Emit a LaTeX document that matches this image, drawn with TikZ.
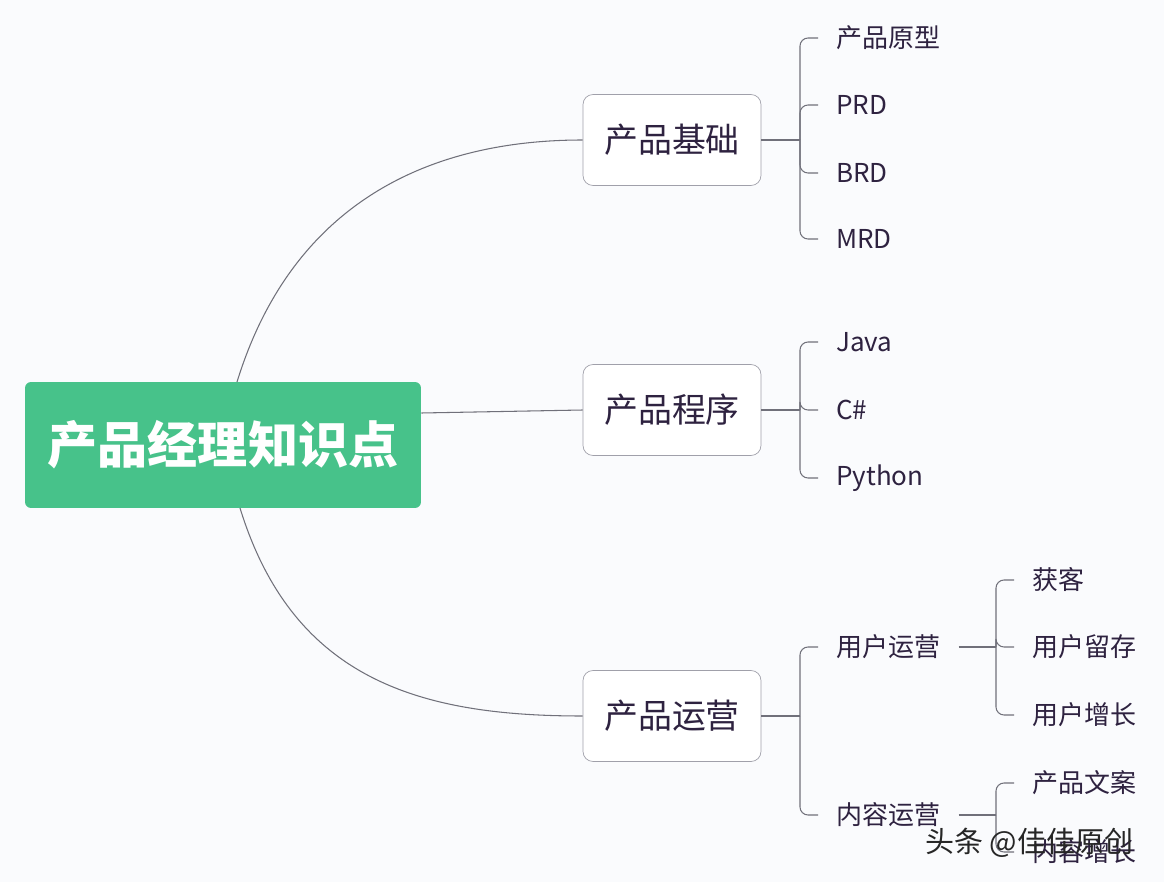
\documentclass[tikz,border=0pt]{standalone}
\usepackage{fontspec}
\setmainfont{Noto Sans CJK SC}
\definecolor{RootGreen}{RGB}{71, 194, 138}
\definecolor{InkPurple}{RGB}{46, 34, 64}
\definecolor{LineGray}{RGB}{112, 112, 122}
\definecolor{BoxGray}{RGB}{160, 160, 170}
\definecolor{PaperWhite}{RGB}{250, 251, 253}
\usepackage{tikz}
\usetikzlibrary{positioning, calc}

\begin{document}
\begin{tikzpicture}[
    x=0.02cm, y=-0.02cm,
    every node/.style={text=InkPurple},
    rootbox/.style={fill=RootGreen, rounded corners=0.12cm, minimum width=7.92cm, minimum height=2.52cm, font=\fontsize{28.5}{30}\selectfont\bfseries, text=white},
    topicbox/.style={draw=BoxGray, fill=white, rounded corners=0.2cm, minimum width=3.56cm, minimum height=1.82cm, font=\fontsize{19.3}{21}\selectfont},
    leaf/.style={anchor=west, inner xsep=0.36cm, inner ysep=0pt, font=\fontsize{14.8}{16}\selectfont},
    link/.style={draw=LineGray, line width=0.6pt},
    fork/.style={link, rounded corners=0.16cm}
]
\fill[PaperWhite] (0,0) rectangle (1164,882);
\useasboundingbox (0,0) rectangle (1164,882);

% main topic and its three branches
\node[rootbox] (root) at (223,445) {产品经理知识点};
\node[topicbox] (base) at (672,140) {产品基础};
\node[topicbox] (prog) at (672,410) {产品程序};
\node[topicbox] (ops) at (672,716) {产品运营};

\coordinate (rootup) at (237,382);
\coordinate (rootdown) at (240,508);
\draw[link] (rootup) .. controls (290,210) and (420,140) .. (base.west);
\draw[link] (root.east |- 0,413) -- (prog.west);
\draw[link] (rootdown) .. controls (293,680) and (420,716) .. (ops.west);

% 产品基础
\node[leaf] (proto) at (818,38) {产品原型};
\node[leaf] (prd) at (818,105) {PRD};
\node[leaf] (brd) at (818,173) {BRD};
\node[leaf] (mrd) at (818,239) {MRD};
\coordinate (jbase) at (800,140);
\draw[link] (base.east) -- (jbase);
\foreach \c in {proto, prd, brd, mrd}
    \draw[fork] (jbase) |- (\c.west);

% 产品程序
\node[leaf] (java) at (818,342) {Java};
\node[leaf] (csharp) at (818,410) {C\#};
\node[leaf] (python) at (818,478) {Python};
\coordinate (jprog) at (800,410);
\draw[link] (prog.east) -- (jprog);
\foreach \c in {java, csharp, python}
    \draw[fork] (jprog) |- (\c.west);

% 产品运营
\node[leaf] (user) at (818,647) {用户运营};
\node[leaf] (content) at (818,815) {内容运营};
\coordinate (jops) at (800,716);
\draw[link] (ops.east) -- (jops);
\foreach \c in {user, content}
    \draw[fork] (jops) |- (\c.west);

\node[leaf] (gain) at (1014,580) {获客};
\node[leaf] (keep) at (1014,647) {用户留存};
\node[leaf] (grow) at (1014,715) {用户增长};
\coordinate (juser) at (996,647);
\draw[link] (user.east) -- (juser);
\foreach \c in {gain, keep, grow}
    \draw[fork] (juser) |- (\c.west);

\node[leaf] (copy) at (1014,783) {产品文案};
\node[leaf] (cgrow) at (1014,852) {内容增长};
\coordinate (jcontent) at (996,815);
\draw[link] (content.east) -- (jcontent);
\foreach \c in {copy, cgrow}
    \draw[fork] (jcontent) |- (\c.west);

% watermark
\node[anchor=west, inner sep=0pt, font=\fontsize{16.5}{18}\selectfont, text=black!85] (mark) at (925,843) {头条 @佳佳原创};
\end{tikzpicture}
\end{document}
